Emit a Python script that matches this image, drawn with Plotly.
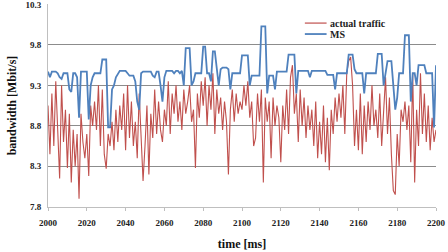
import plotly.graph_objects as go

time_ms = list(range(2000, 2201))

actual_traffic = [
    9.05, 8.45, 9.2, 8.55, 9.35, 8.7, 8.15, 9.3, 8.6, 9.0,
    8.28, 8.95, 8.1, 8.75, 8.3, 8.7, 7.9, 8.95, 8.6, 8.4,
    8.7, 8.18, 9.05, 8.8, 9.1, 8.75, 9.3, 8.55, 9.25, 8.45,
    8.27, 8.7, 8.55, 8.85, 8.5, 9.0, 8.6, 9.05, 8.75, 9.2,
    8.5, 9.3, 8.65, 9.1, 8.55, 8.85, 8.4, 9.2, 8.65, 8.12,
    8.55, 9.05, 8.2, 8.95, 8.65, 9.25, 8.7, 9.1, 8.75, 8.6,
    9.0, 8.8, 9.35, 8.7, 9.2, 8.95, 9.3, 8.85, 9.1, 8.75,
    9.25, 8.95, 9.1, 9.3, 8.85, 9.0, 8.28, 9.2, 8.9, 9.35,
    9.05, 9.4, 8.8, 9.3, 9.0, 9.45, 8.7, 9.25, 8.95, 9.15,
    8.75, 9.1, 8.85, 8.2, 9.0, 9.25, 8.85, 9.2, 8.95, 9.1,
    9.0, 9.3, 9.05, 9.35, 8.9, 9.1, 8.55, 8.65, 9.2, 8.85,
    9.25, 8.1, 9.15, 8.85, 9.1, 8.4, 9.15, 8.8, 9.05, 8.9,
    8.35, 9.05, 8.75, 9.25, 8.7, 9.4, 9.55, 8.95, 9.2, 8.6,
    9.25, 8.8, 9.15, 8.65, 9.05, 8.75, 9.0, 8.55, 9.1, 8.4,
    8.85, 8.45, 9.05, 8.35, 8.9, 8.25, 9.0, 8.7, 9.15, 8.85,
    9.2, 8.9, 9.3, 8.7, 9.45, 9.6, 9.65, 9.3, 8.55, 9.0,
    8.5, 9.2, 8.45, 9.05, 8.6, 9.1, 8.75, 9.3, 8.8, 9.0,
    8.65, 9.2, 8.55, 8.95, 9.4, 8.7, 9.15, 8.45, 8.0, 7.95,
    8.7, 8.3, 9.0, 8.85, 9.1, 8.75, 9.05, 8.35, 9.45, 8.1,
    9.0, 8.55, 9.45, 8.7, 9.2, 8.6, 9.05, 8.5, 8.9, 8.6,
    8.75,
]

ms_values = [
    9.47, 9.40, 9.47, 9.47, 9.47, 9.45, 9.40, 9.38, 9.45, 9.45,
    9.45, 9.25, 9.22, 9.45, 9.45, 9.40, 8.90, 9.47, 9.47, 9.47,
    9.47, 8.88, 9.30, 9.40, 9.45, 9.45, 9.45, 9.45, 9.62, 9.62,
    9.62, 8.78, 8.78, 9.25, 9.30, 9.40, 9.45, 9.48, 9.48, 9.48,
    9.48, 9.45, 9.42, 9.42, 9.42, 9.35, 9.10, 9.00, 9.45, 9.47,
    9.47, 9.47, 9.47, 9.47, 9.42, 9.40, 9.47, 9.47, 9.30, 9.10,
    9.40, 9.48, 9.48, 9.48, 9.48, 9.45, 9.48, 9.48, 9.45, 9.48,
    9.30, 9.76, 9.76, 9.76, 9.30, 9.35, 9.45, 9.45, 9.45, 9.45,
    9.78, 9.78, 9.45, 9.45, 9.35, 9.72, 9.72, 9.50, 9.30, 9.50,
    9.52, 9.52, 9.52, 9.50, 9.25, 9.45, 9.45, 9.45, 9.45, 9.45,
    9.67, 9.67, 9.67, 9.67, 9.30, 9.42, 9.42, 9.42, 9.42, 9.42,
    10.03, 10.03, 10.03, 9.20, 9.42, 9.42, 9.42, 9.25, 9.47, 9.47,
    9.47, 9.47, 9.47, 9.47, 9.68, 9.68, 9.68, 9.68, 9.20, 9.48,
    9.48, 9.48, 9.48, 9.48, 9.48, 9.40, 9.48, 9.48, 9.48, 9.48,
    9.48, 9.48, 9.48, 9.48, 9.43, 9.43, 9.43, 9.43, 9.25, 9.45,
    9.45, 9.45, 9.45, 9.45, 9.45, 9.68, 9.68, 9.68, 9.50, 9.45,
    9.45, 9.45, 9.45, 9.20, 9.45, 9.45, 9.45, 9.45, 9.45, 9.45,
    9.69, 9.69, 9.69, 9.30, 9.45, 9.60, 9.60, 9.60, 9.30, 9.00,
    9.15, 9.45, 9.45, 9.45, 9.92, 9.92, 9.92, 9.10, 9.45, 9.45,
    9.30, 9.55, 9.55, 9.55, 9.55, 9.45, 9.45, 9.45, 9.45, 8.78,
    9.55,
]

series_names = ["actual traffic", "MS"]
series_colors = ["#C0504D", "#4F81BD"]

y_ticks = [7.8, 8.3, 8.8, 9.3, 9.8, 10.3]
y_tick_labels = ["7.8", "8.3", "8.8", "9.3", "9.8", "10.3"]
x_ticks = list(range(2000, 2201, 20))

font_family = "Liberation Serif, Times New Roman, serif"

fig = go.Figure()
fig.add_trace(go.Scatter(
    x=time_ms, y=actual_traffic, mode="lines", name=series_names[0],
    line=dict(color=series_colors[0], width=1.1),
))
fig.add_trace(go.Scatter(
    x=time_ms, y=ms_values, mode="lines", name=series_names[1],
    line=dict(color=series_colors[1], width=1.8),
))

# Compact legend drawn inside the plot (top right)
legend_rows_y = [0.906, 0.852]
for name, color, ly in zip(series_names, series_colors, legend_rows_y):
    fig.add_shape(type="line", xref="paper", yref="paper",
                  x0=0.662, x1=0.718, y0=ly, y1=ly,
                  line=dict(color=color, width=1.8 if name == "MS" else 1.2))
    fig.add_annotation(xref="paper", yref="paper", x=0.722, y=ly,
                       xanchor="left", yanchor="middle", showarrow=False,
                       text=name,
                       font=dict(family=font_family, size=10, color="#222222", weight="bold"))

fig.update_layout(
    width=448, height=252,
    margin=dict(l=48, r=12, t=4, b=45, autoexpand=False),
    paper_bgcolor="white", plot_bgcolor="white",
    font=dict(family=font_family, color="#222222"),
    showlegend=False,
)
fig.update_xaxes(
    range=[2000, 2200], tickvals=x_ticks,
    tickfont=dict(size=9, weight="bold", color="#222222"),
    showgrid=False, zeroline=False,
    showline=True, linecolor="#BFBFBF", linewidth=1,
    ticks="outside", ticklen=3, tickcolor="#BFBFBF",
    ticklabeloverflow="allow", ticklabelstandoff=4,
    title=dict(text="time [ms]", font=dict(size=12, weight="bold", color="#111111"), standoff=12),
)
fig.update_yaxes(
    range=[7.797, 10.306], tickvals=y_ticks, ticktext=y_tick_labels,
    tickfont=dict(size=9, weight="bold", color="#222222"),
    showgrid=True, gridcolor="#8C8C8C", gridwidth=1, zeroline=False,
    showline=True, linecolor="#BFBFBF", linewidth=1,
    ticks="", ticklabelstandoff=4,
    ticklabeloverflow="allow",
    title=dict(text="bandwidth [Mbit/s]", font=dict(size=12, weight="bold", color="#111111"), standoff=6),
)

fig.write_html("out.html", config={"displayModeBar": False},
               post_script="document.body.style.margin='0';")
